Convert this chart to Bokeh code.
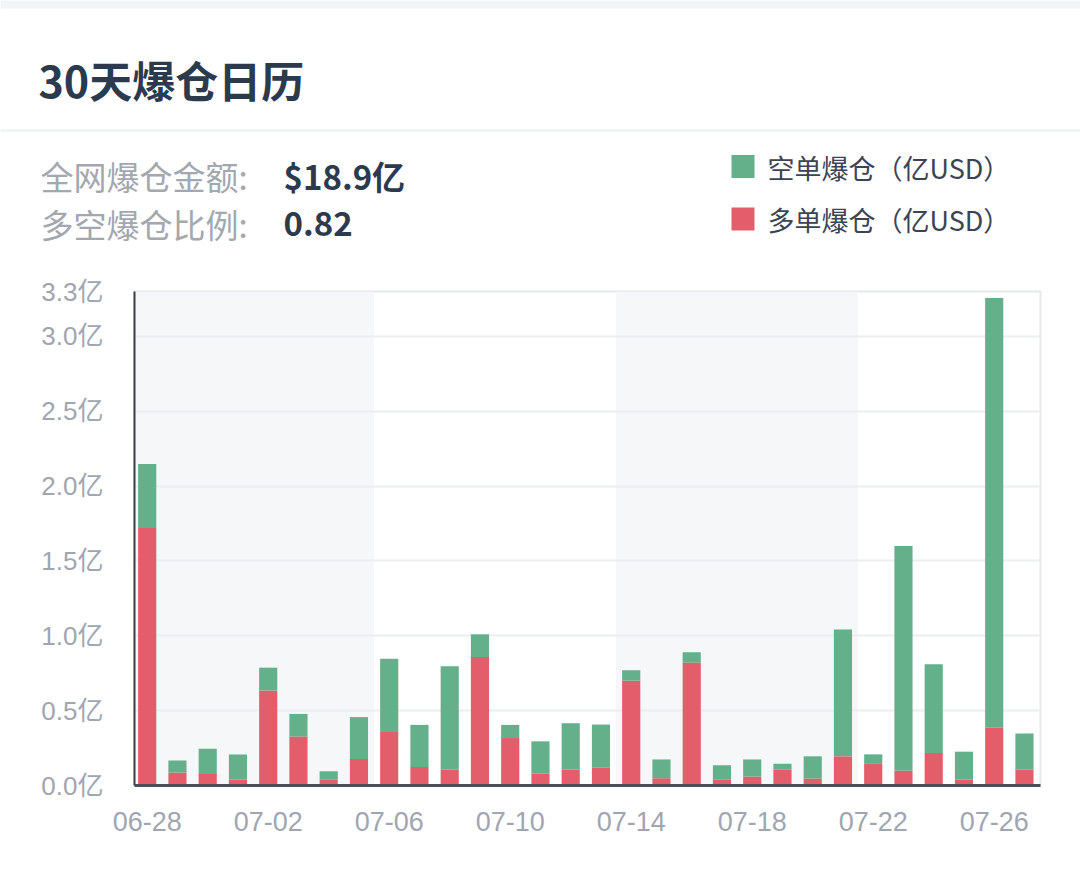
import numpy as np
from bokeh.plotting import figure
from bokeh.models import (ColumnDataSource, Range1d, FixedTicker, CustomJSTickFormatter,
                          BoxAnnotation)
from bokeh.core.properties import value
from bokeh.embed import file_html
from bokeh.resources import INLINE

# ---------------- data ----------------
dates = ["06-28", "06-29", "06-30", "07-01", "07-02", "07-03", "07-04", "07-05",
         "07-06", "07-07", "07-08", "07-09", "07-10", "07-11", "07-12", "07-13",
         "07-14", "07-15", "07-16", "07-17", "07-18", "07-19", "07-20", "07-21",
         "07-22", "07-23", "07-24", "07-25", "07-26", "07-27"]
long_liq = [1.72, 0.087, 0.076, 0.040, 0.635, 0.328, 0.038, 0.177, 0.357, 0.123,
            0.105, 0.858, 0.317, 0.078, 0.107, 0.119, 0.700, 0.049, 0.821, 0.038,
            0.060, 0.105, 0.047, 0.195, 0.148, 0.098, 0.217, 0.040, 0.385, 0.105]
short_liq = [0.427, 0.080, 0.169, 0.167, 0.152, 0.150, 0.058, 0.280, 0.490, 0.282,
             0.691, 0.152, 0.088, 0.217, 0.309, 0.288, 0.070, 0.125, 0.069, 0.098,
             0.114, 0.040, 0.148, 0.847, 0.060, 1.502, 0.593, 0.186, 2.872, 0.242]
y_ticks = [0, 0.5, 1.0, 1.5, 2.0, 2.5, 3.0, 3.3]
x_label_step = 4
title_text = "30天爆仓日历"
summary_labels = ["全网爆仓金额:", "多空爆仓比例:"]
summary_values = ["$18.9亿", "0.82"]
legend_labels = ["空单爆仓（亿USD）", "多单爆仓（亿USD）"]

# ---------------- styles ----------------
GREEN = "#63b08b"
RED = "#e35d6b"
DARK = "#2c3a4e"
GREY = "#a2a7b0"
AXIS_GREY = "#a0a6b1"
CJK = "Noto Sans CJK SC"
NUM = "'Liberation Sans', 'Noto Sans CJK SC'"

W = 1080
HH = 268          # header height
CH = 598          # chart height
BL, BR, BT, BB = 134, 40, 23, 81

# ---------------- header (title, summary, legend) ----------------
hp = figure(width=W, height=HH, output_backend="svg", toolbar_location=None,
            x_range=Range1d(0, W), y_range=Range1d(HH, 0),
            x_axis_location=None, y_axis_location=None,
            min_border=0, min_border_left=0, min_border_right=0,
            min_border_top=0, min_border_bottom=0)
hp.grid.visible = False
hp.outline_line_color = None
hp.background_fill_color = "white"
hp.border_fill_color = "white"

# top strip and separator line
hp.add_layout(BoxAnnotation(left=0, right=W, top=0, bottom=8,
                            fill_color="#f3f4f6", fill_alpha=1.0, line_color=None))
hp.add_layout(BoxAnnotation(left=0, right=W, top=129, bottom=131,
                            fill_color="#eef0f3", fill_alpha=1.0, line_color=None))

hp.text(x=[38], y=[78], text=[title_text], text_font=value(CJK),
        text_font_size="43px", text_font_style="bold", text_color=DARK,
        text_align="left", text_baseline="middle")

rows_y = [175, 223]
hp.text(x=[40] * len(summary_labels), y=rows_y, text=summary_labels,
        text_font=value(CJK), text_font_size="33px", text_color=GREY,
        text_align="left", text_baseline="middle")
hp.text(x=[283] * len(summary_values), y=rows_y, text=summary_values,
        text_font=value(CJK), text_font_size="33px", text_font_style="bold",
        text_color=DARK, text_align="left", text_baseline="middle")

# legend: colour swatches and labels
leg_y = [166, 218.5]
hp.rect(x=[742.5, 742.5], y=leg_y, width=23, height=23,
        fill_color=[GREEN, RED], line_color=None)
hp.text(x=[767, 767], y=[167, 219], text=legend_labels, text_font=value(CJK),
        text_font_size="27px", text_color="#3b4454",
        text_align="left", text_baseline="middle")

# ---------------- chart ----------------
n = len(dates)
x = np.arange(n)
longs = np.array(long_liq)
totals = longs + np.array(short_liq)
src = ColumnDataSource(dict(x=x, long=longs, total=totals, date=dates))

p = figure(width=W, height=CH, output_backend="svg", toolbar_location=None,
           x_range=Range1d(-0.42, n - 1 + 0.53), y_range=Range1d(0, 3.3),
           min_border_left=BL, min_border_right=BR, min_border_top=BT, min_border_bottom=BB)
p.background_fill_color = "white"
p.border_fill_color = "white"
p.outline_line_color = "#e6e8ec"
p.outline_line_width = 2

# alternating background bands (8 days each)
for s in range(0, n, 16):
    p.add_layout(BoxAnnotation(left=s - 0.5, right=s + 7.5, fill_color="#f6f7f9",
                               fill_alpha=1.0, line_color=None, level="image"))

r_long = p.vbar(x="x", top="long", bottom=0, width=0.6, source=src,
                fill_color=RED, line_color=None)
r_short = p.vbar(x="x", top="total", bottom="long", width=0.6, source=src,
                 fill_color=GREEN, line_color=None)

p.yaxis.ticker = FixedTicker(ticks=y_ticks)
p.yaxis.formatter = CustomJSTickFormatter(code="return tick.toFixed(1) + '亿'")
p.yaxis.axis_line_color = "#3a3f47"
p.yaxis.axis_line_width = 2
p.yaxis.major_tick_line_color = None
p.yaxis.minor_tick_line_color = None
p.yaxis.major_label_text_font = NUM
p.yaxis.major_label_text_font_size = "26px"
p.yaxis.major_label_text_color = AXIS_GREY
p.yaxis.major_label_standoff = 25

xt = list(range(0, n, x_label_step))
p.xaxis.ticker = FixedTicker(ticks=xt)
p.xaxis.major_label_overrides = {i: dates[i] for i in xt}
p.xaxis.axis_line_color = "#4b5058"
p.xaxis.axis_line_width = 3
p.xaxis.major_tick_line_color = None
p.xaxis.minor_tick_line_color = None
p.xaxis.major_label_text_font = NUM
p.xaxis.major_label_text_font_size = "27px"
p.xaxis.major_label_text_color = AXIS_GREY
p.xaxis.major_label_standoff = 20

p.xgrid.grid_line_color = None
p.ygrid.grid_line_color = "#eceef1"
p.ygrid.grid_line_width = 2

open("out.html", "w").write(file_html([hp, p], INLINE))
